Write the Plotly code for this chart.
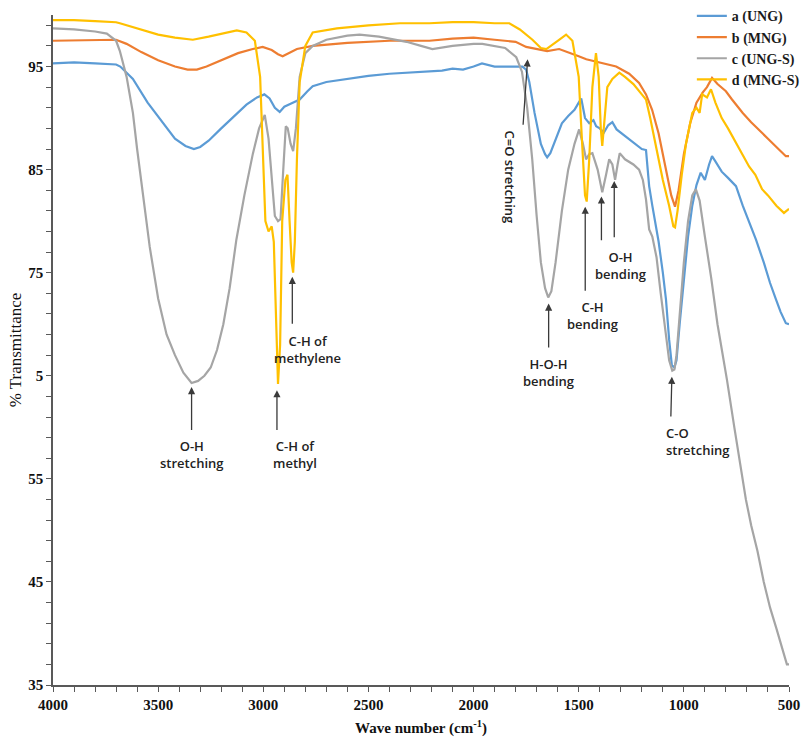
import plotly.graph_objects as go

# ---------------- data ----------------
series_names = ["a (UNG)", "b (MNG)", "c (UNG-S)", "d (MNG-S)"]
series_colors = ["#5B9BD5", "#ED7D31", "#A5A5A5", "#FFC000"]

wn_a = [4000, 3900, 3800, 3700, 3680, 3620, 3550, 3480, 3420, 3370, 3330, 3300, 3260, 3200, 3140,
        3080, 3030, 2995, 2970, 2945, 2922, 2900, 2870, 2827, 2790, 2765, 2700, 2600, 2500, 2400,
        2300, 2210, 2150, 2100, 2050, 2000, 1960, 1900, 1850, 1800, 1768, 1750, 1735, 1710, 1680,
        1660, 1650, 1635, 1610, 1580, 1550, 1520, 1500, 1488, 1470, 1450, 1430, 1417, 1400, 1380,
        1360, 1340, 1320, 1307, 1290, 1260, 1230, 1200, 1180, 1170, 1165, 1150, 1120, 1100, 1085,
        1070, 1057, 1045, 1035, 1020, 1000, 980, 960, 940, 920, 900, 880, 866, 850, 820, 790, 752,
        720, 690, 657, 620, 590, 562, 540, 515, 500]
t_a = [95.3, 95.4, 95.3, 95.2, 95.0, 93.8, 91.5, 89.6, 88.0, 87.3, 87.0, 87.2, 87.8, 89.0, 90.2,
       91.3, 92.0, 92.3, 91.9, 91.0, 90.6, 91.1, 91.4, 91.8, 92.6, 93.1, 93.5, 93.8, 94.1, 94.3,
       94.4, 94.5, 94.6, 94.8, 94.7, 95.0, 95.3, 95.0, 95.0, 95.0, 95.0, 94.7, 93.5, 90.5, 87.5,
       86.5, 86.2, 86.6, 88.0, 89.5, 90.2, 90.8, 91.5, 91.9, 90.0, 89.5, 89.8, 89.2, 89.0, 88.6,
       89.3, 89.6, 88.9, 88.7, 88.4, 88.0, 87.5, 87.0, 86.9, 85.0, 83.4, 81.5, 78.0, 75.0, 72.4,
       68.5, 66.0, 65.8, 66.5, 70.0, 74.5, 78.5, 81.5, 83.5, 84.7, 84.0, 85.5, 86.3, 85.8, 84.8,
       84.2, 83.4, 81.5, 80.0, 78.2, 76.0, 74.0, 72.4, 71.2, 70.1, 70.0]

wn_b = [4000, 3800, 3700, 3650, 3580, 3500, 3420, 3360, 3316, 3270, 3200, 3120, 3050, 3003, 2960,
        2930, 2908, 2880, 2840, 2765, 2600, 2400, 2210, 2100, 2000, 1900, 1800, 1750, 1700, 1650,
        1593, 1550, 1500, 1464, 1400, 1322, 1260, 1213, 1180, 1151, 1120, 1090, 1060, 1042, 1025,
        1000, 970, 940, 910, 890, 866, 840, 800, 771, 720, 680, 643, 600, 560, 515, 500]
t_b = [97.5, 97.6, 97.6, 97.2, 96.4, 95.6, 95.0, 94.7, 94.7, 95.0, 95.6, 96.3, 96.7, 96.9, 96.6,
       96.2, 96.0, 96.3, 96.7, 97.0, 97.3, 97.5, 97.5, 97.7, 97.8, 97.6, 97.4, 96.9, 96.7, 96.5,
       96.7, 96.4, 96.0, 95.7, 95.4, 95.0, 94.3, 93.4, 92.3, 90.8, 88.5, 85.5, 82.5, 81.4, 83.0,
       86.5, 89.5, 91.5, 92.5, 93.0, 93.9, 93.3, 92.6, 91.8, 90.5, 89.6, 88.9, 88.0, 87.2, 86.3, 86.3]

wn_c = [4000, 3900, 3800, 3744, 3700, 3682, 3650, 3620, 3600, 3570, 3540, 3500, 3460, 3420, 3380,
        3341, 3310, 3280, 3250, 3220, 3190, 3160, 3128, 3090, 3050, 3020, 2993, 2975, 2960, 2945,
        2930, 2918, 2905, 2893, 2884, 2870, 2858, 2845, 2827, 2800, 2765, 2700, 2600, 2542, 2450,
        2400, 2319, 2250, 2196, 2100, 2000, 1958, 1900, 1850, 1797, 1770, 1745, 1721, 1700, 1680,
        1660, 1645, 1630, 1610, 1580, 1550, 1520, 1498, 1480, 1465, 1450, 1435, 1410, 1388, 1370,
        1355, 1340, 1327, 1315, 1305, 1280, 1240, 1213, 1195, 1180, 1170, 1165, 1150, 1130, 1110,
        1090, 1070, 1055, 1045, 1035, 1020, 1000, 980, 960, 943, 925, 900, 870, 840, 818, 795,
        760, 730, 705, 680, 650, 620, 590, 560, 530, 510, 500]
t_c = [98.7, 98.6, 98.4, 98.2, 97.5, 96.5, 94.0, 90.5, 87.0, 82.0, 77.5, 72.5, 69.0, 67.0, 65.3,
       64.3, 64.5, 65.0, 65.8, 67.5, 70.0, 73.5, 78.2, 82.5, 86.5, 89.0, 90.3, 88.0, 84.0, 80.5,
       80.0, 80.2, 85.0, 89.2, 89.0, 87.5, 86.8, 89.0, 94.0, 96.3, 97.0, 97.6, 98.0, 98.1, 97.9,
       97.7, 97.4, 97.0, 96.7, 97.0, 97.2, 97.2, 97.0, 96.8, 95.9, 94.5, 91.0, 86.0, 80.5, 76.0,
       73.5, 72.6, 73.2, 76.0, 81.0, 85.0, 87.5, 88.9, 87.5, 86.0, 86.5, 86.6, 85.0, 82.8, 84.5,
       86.0, 85.5, 84.0, 85.5, 86.6, 86.0, 85.5, 85.0, 84.0, 82.1, 80.5, 79.2, 78.5, 76.5, 73.0,
       69.5, 66.5, 65.5, 65.6, 67.0, 71.0, 76.0, 80.0, 82.5, 83.1, 82.0, 78.5, 74.5, 70.0, 67.5, 64.6,
       60.0, 56.0, 53.0, 50.5, 48.0, 45.0, 42.5, 40.5, 38.5, 37.0, 37.0]

wn_d = [4000, 3900, 3800, 3700, 3682, 3600, 3500, 3420, 3335, 3260, 3200, 3126, 3080, 3040, 3015,
        3000, 2990, 2975, 2960, 2950, 2940, 2930, 2920, 2910, 2895, 2885, 2875, 2865, 2858, 2850,
        2840, 2827, 2800, 2765, 2650, 2500, 2350, 2210, 2100, 2000, 1900, 1830, 1780, 1720, 1680,
        1654, 1600, 1560, 1530, 1500, 1485, 1470, 1462, 1450, 1435, 1418, 1405, 1395, 1388, 1380,
        1364, 1340, 1307, 1280, 1240, 1200, 1180, 1160, 1130, 1100, 1070, 1050, 1042, 1030, 1010,
        990, 960, 940, 925, 913, 890, 871, 850, 820, 790, 752, 720, 690, 660, 628, 600, 560, 524, 500]
t_d = [99.5, 99.5, 99.4, 99.3, 99.2, 98.7, 98.1, 97.8, 97.6, 97.9, 98.2, 98.5, 98.3, 97.5, 94.0,
       86.0, 80.0, 79.0, 79.5, 78.0, 70.0, 64.2, 68.0, 80.0, 84.0, 84.5, 80.0, 76.0, 75.0, 78.0,
       86.0, 93.5, 97.0, 98.3, 98.7, 99.0, 99.2, 99.2, 99.3, 99.3, 99.2, 99.2, 98.6, 97.6, 96.8,
       96.7, 97.5, 98.1, 97.5, 94.0, 88.0, 82.5, 81.9, 86.0, 93.0, 96.3, 94.0, 89.0, 87.3, 89.0,
       93.0, 93.8, 94.4, 94.0, 93.3, 92.3, 91.8, 90.0, 87.0, 84.0, 81.5, 79.5, 79.4, 81.0, 84.5,
       87.5, 90.5, 91.0, 90.5, 92.3, 92.0, 92.8, 91.5, 90.0, 89.0, 87.6, 86.5, 85.3, 84.5, 83.1,
       82.5, 81.5, 80.8, 81.2]

x_tick_vals = list(range(500, 4001, 100))
x_tick_labels = ["4000", "3500", "3000", "2500", "2000", "1500", "1000", "500"]
y_tick_vals = list(range(35, 100, 2))
y_tick_labels = {35: "35", 45: "45", 55: "55", 65: "5", 75: "75", 85: "85", 95: "95"}

# ---------------- figure ----------------
fig = go.Figure()
for name, color, xs, ys in zip(series_names, series_colors,
                               [wn_a, wn_b, wn_c, wn_d], [t_a, t_b, t_c, t_d]):
    fig.add_trace(go.Scatter(x=xs, y=ys, mode="lines", name=name,
                             line=dict(color=color, width=2.2)))

serif = "Times New Roman, Liberation Serif, serif"
sans = "Open Sans, Noto Sans, sans-serif"
axis_col = "#595959"

fig.update_layout(
    width=810, height=737,
    margin=dict(l=53, r=21, t=15, b=52, autoexpand=False),
    paper_bgcolor="white", plot_bgcolor="white",
    showlegend=True,
    legend=dict(x=0.868, y=1.022, xanchor="left", yanchor="top",
                bgcolor="rgba(0,0,0,0)", itemwidth=30, tracegroupgap=0,
                font=dict(family=serif, size=14, color="#1a1a1a", weight="bold")),
)

fig.update_xaxes(
    range=[4000, 500], showgrid=False, zeroline=False,
    showline=True, linecolor=axis_col, linewidth=1.5,
    ticks="outside", ticklen=5, tickcolor=axis_col, tickwidth=1.2,
    tickmode="array", tickvals=x_tick_vals,
    ticktext=[(str(v) if str(v) in x_tick_labels else "") for v in x_tick_vals],
    tickfont=dict(family=serif, size=15, color="#111111", weight="bold"),
    title=dict(text="Wave number (cm<sup>-1</sup>)", standoff=15,
               font=dict(family=serif, size=15, color="#111111", weight="bold")),
)
fig.update_yaxes(
    range=[35, 100], showgrid=False, zeroline=False,
    showline=True, linecolor=axis_col, linewidth=1.5,
    ticks="outside", ticklen=5, tickcolor=axis_col, tickwidth=1.2,
    tickmode="array", tickvals=y_tick_vals,
    ticktext=[y_tick_labels.get(v, "") for v in y_tick_vals],
    tickfont=dict(family=serif, size=15, color="#111111", weight="bold"),
    title=dict(text="% Transmittance", standoff=2,
               font=dict(family=serif, size=17, color="#111111")),
)

ann_font = dict(family=sans, size=13, color="#222222", weight=600)
arrow_col = "#3a3a3a"

# arrows: (tip_x, tip_y, tail_x, tail_y) in data units
arrows = [
    (3341, 63.9, 3341, 59.6),   # O-H stretching
    (2935, 63.6, 2935, 59.6),   # C-H of methyl
    (2862, 74.6, 2862, 69.9),   # C-H of methylene
    (1643, 72.0, 1643, 67.6),   # H-O-H bending
    (1469, 81.4, 1469, 73.1),   # C-H bending
    (1392, 82.4, 1392, 78.0),   # O-H bending (1)
    (1331, 83.9, 1331, 78.3),   # O-H bending (2)
    (1743, 95.7, 1765, 89.2),   # C=O stretching
    (1057, 64.9, 1062, 60.9),   # C-O stretching
]
for tx, ty, ax, ay in arrows:
    fig.add_annotation(x=tx, y=ty, ax=ax, ay=ay, xref="x", yref="y", axref="x", ayref="y",
                       text="", showarrow=True, arrowhead=2, arrowsize=1.1, arrowwidth=1.3,
                       arrowcolor=arrow_col, standoff=0, startstandoff=0)

labels = [
    (3341, 59.3, "O-H<br>stretching", "center", "center"),
    (2850, 59.3, "C-H of<br>methyl", "center", "center"),
    (2790, 69.4, "C-H of<br>methylene", "center", "center"),
    (1643, 67.2, "H-O-H<br>bending", "center", "center"),
    (1436, 72.7, "C-H<br>bending", "center", "center"),
    (1300, 77.6, "O-H<br>bending", "center", "center"),
    (1094, 60.5, "C-O<br>stretching", "left", "left"),
]
for lx, ly, txt, al, xa in labels:
    fig.add_annotation(x=lx, y=ly, xref="x", yref="y", text=txt, showarrow=False,
                       align=al, xanchor=xa, yanchor="top", font=ann_font)

fig.add_annotation(x=1825, y=84.3, xref="x", yref="y", text="C=O stretching",
                   showarrow=False, textangle=90, font=ann_font)

fig.write_html("out.html")
